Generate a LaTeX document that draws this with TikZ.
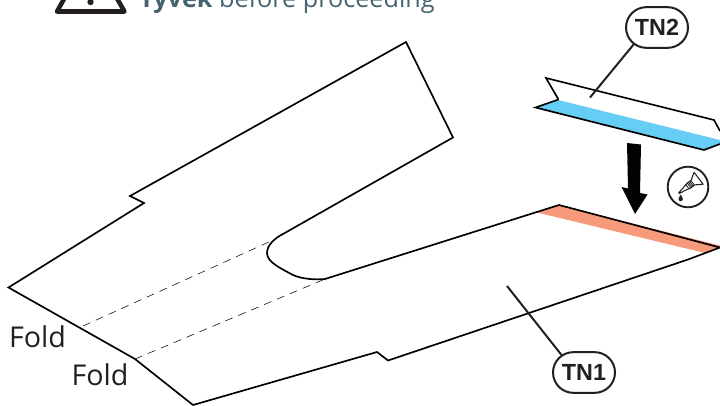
\documentclass[tikz,border=0pt]{standalone}
\usepackage{fontspec}
\setmainfont{Open Sans}
\newfontfamily\tnfont{Liberation Sans}
\usetikzlibrary{shapes.misc}
\definecolor{inkk}{HTML}{231F20}
\definecolor{warnblue}{HTML}{44626F}
\definecolor{stripblue}{HTML}{66CDF5}
\definecolor{stripred}{HTML}{F79A7C}
\tikzset{
 outline/.style={line width=1.25pt,black,line join=miter},
 foldline/.style={line width=0.4pt,black,dash pattern=on 6pt off 4.5pt},
 leader/.style={line width=1.5pt,inkk},
 tnlabel/.style={shape=rounded rectangle,draw=inkk,line width=1.5pt,fill=white,minimum width=46.5pt,minimum height=30.5pt,inner sep=0pt,font=\tnfont\bfseries\fontsize{17.5}{17.5}\selectfont,text=inkk},
 foldtext/.style={inner sep=0pt,anchor=base,font=\fontsize{21.5}{21.5}\selectfont,text=inkk},
}
\begin{document}
\begin{tikzpicture}[x=0.75pt,y=-0.75pt]
\useasboundingbox (0,0) rectangle (720,406);
\clip (0,0) rectangle (720,406);
% warning header
\draw[line width=3.4pt,inkk,line join=round] (57,11.5) -- (78,-26) -- (103,-26) -- (124.5,11.5) -- cycle;
\fill[inkk] (90.5,2) circle (3.2);
\node[inner sep=0pt,anchor=base west,text=warnblue,font=\fontsize{18.9}{18.9}\selectfont] (warn) at (139,7.5) {\textbf{Tyvek} before proceeding};
% coloured strips
\fill[stripred] (537,212.5) -- (559,205) -- (720,245.5) -- (720,247.5) -- (705,253) -- cycle;
\fill[stripblue] (535.5,107.5) -- (558,100) -- (720,140) -- (720,144) -- (704,150) -- cycle;
% main sheet
\draw[outline] (8.5,287.5) -- (144,203) -- (130,196) -- (406,42) -- (453,137.5) -- (283,234)
  .. controls (275,238) and (267,245) .. (267,253)
  .. controls (267,262) and (280,268) .. (293,275)
  .. controls (302,279) and (315,280) .. (325,279)
  -- (559,205) -- (720,247.5) -- (688,259.5) -- (388,360.5) -- (377,352) -- (193,405) -- (135,359) -- cycle;
% fold lines
\coordinate (fa1) at (83,326); \coordinate (fa2) at (270,241.5);
\coordinate (fb1) at (135,359); \coordinate (fb2) at (325,279);
\draw[foldline] (fa1) -- (fa2);
\draw[foldline] (fb1) -- (fb2);
% tape piece
\draw[outline] (558.5,99.5) -- (546,78) -- (714,120) -- (720,131);
\draw[outline] (558.5,99.5) -- (535.5,107.5) -- (704,150) -- (720,144);
% arrow
\fill[black!95!inkk] (627,143) -- (641,144.5) -- (640,193) -- (647.5,194.5) -- (635,214) -- (621.5,187) -- (628,188.5) -- cycle;
% glue icon
\draw[line width=1.4pt,inkk] (688,187) circle (20.3);
\begin{scope}[shift={(689,185.5)},rotate=37]
 \draw[line width=0.8pt,inkk,fill=white,line join=round] (12,-7.5) -- (12,7.5) -- (5,3) -- (0,3) -- (-6,1.6) -- (-12.5,0.5) -- (-12.5,-0.5) -- (-6,-1.6) -- (0,-3) -- (5,-3) -- cycle;
 \draw[line width=0.6pt,inkk] (4.5,-3) -- (4.5,3) (3,-3) -- (3,3) (1.5,-3) -- (1.5,3) (0,-3) -- (0,3) (-2,-2.5) -- (-2,2.5);
\end{scope}
\fill[inkk] (680.7,194.5) .. controls (679.5,197) and (678.5,198) .. (678.5,199) arc (180:0:2.2) .. controls (682.9,198) and (681.9,197) .. (680.7,194.5);
% callouts
\coordinate (tipa) at (590,97.5);
\coordinate (tipb) at (507,286);
\node[tnlabel] (tn2) at (657,27.5) {TN2};
\node[tnlabel] (tn1) at (584,372.5) {TN1};
\draw[leader] (tn2.216) -- (tipa);
\draw[leader] (tn1.142) -- (tipb);
% fold labels
\node[foldtext] (fold1) at (37.5,347) {Fold};
\node[foldtext] (fold2) at (100,385) {Fold};
\end{tikzpicture}
\end{document}
